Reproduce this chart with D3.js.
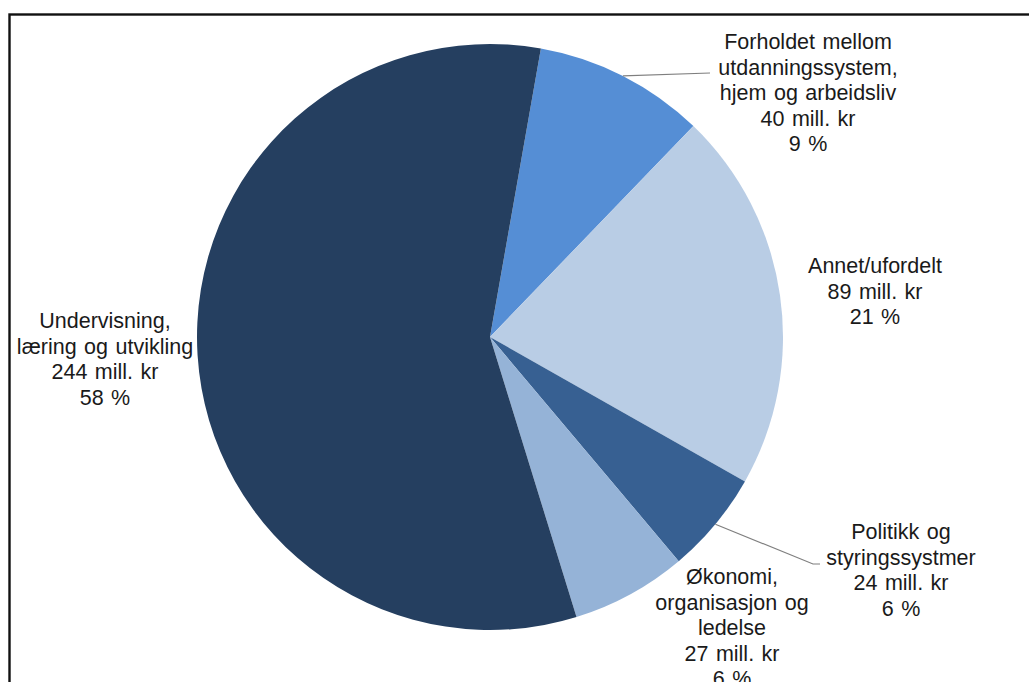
<!DOCTYPE html>
<html>
<head>
<meta charset="utf-8">
<script src="https://cdn.jsdelivr.net/npm/d3@7"></script>
<style>
	body { margin: 0; background: #fff; }
	svg text { font-family: "Liberation Sans", Arial, sans-serif; font-size: 21.5px; fill: #1a1a1a; word-spacing: 1.5px; }
</style>
</head>
<body>
<script>
// data, clockwise from the first slice
var names=[
	["Forholdet mellom", "utdanningssystem,", "hjem og arbeidsliv"],
	["Annet/ufordelt"],
	["Politikk og", "styringssystmer"],
	["Økonomi,", "organisasjon og", "ledelse"],
	["Undervisning,", "læring og utvikling"]
];
var values=[40, 89, 24, 27, 244];       // mill. kr
var percents=[9, 21, 6, 6, 58];
var colors=["#558ed5", "#b9cde5", "#376092", "#95b3d7", "#253f60"];

// layout: label centre (x, first line y) and leader line end
var labelPos=[[808, 49], [875, 273], [901, 539], [732, 584], [105, 328]];
var leaders=[[[710, 73]], null, [[813, 564], [820, 564]], null, null];

var W=1029, H=682;
var cx=490, cy=337, R=293;
var lineH=25.5;

var svg=d3.select('body').append('svg').attr('width', W).attr('height', H);

// frame
svg.append('rect')
	.attr('x', 9.5).attr('y', 14.5)
	.attr('width', W+20).attr('height', H+20)
	.attr('fill', 'none')
	.attr('stroke', '#111')
	.attr('stroke-width', 2.4);

var pie=d3.pie().sort(null)
	.startAngle(10*Math.PI/180)
	.endAngle(10*Math.PI/180+2*Math.PI);
var arcs=pie(values);
var arc=d3.arc().innerRadius(0).outerRadius(R);
var outer=d3.arc().innerRadius(R).outerRadius(R);

var g=svg.append('g').attr('transform', 'translate('+cx+','+cy+')');
g.selectAll('path.slice')
	.data(arcs)
	.enter().append('path')
	.attr('class', 'slice')
	.attr('d', arc)
	.attr('fill', function(d, i) { return colors[i]; });

// leader lines
arcs.forEach(function(d, i) {
	if (!leaders[i]) return;
	var a=(d.startAngle+d.endAngle)/2;
	var pts=[[cx+R*Math.sin(a), cy-R*Math.cos(a)]].concat(leaders[i]);
	svg.append('path')
		.attr('d', d3.line()(pts))
		.attr('fill', 'none')
		.attr('stroke', '#7f7f7f')
		.attr('stroke-width', 1.2);
});

// labels
arcs.forEach(function(d, i) {
	var lines=names[i].concat([values[i]+" mill. kr", percents[i]+" %"]);
	var t=svg.append('text')
		.attr('text-anchor', 'middle')
		.attr('x', labelPos[i][0])
		.attr('y', labelPos[i][1]);
	lines.forEach(function(l, k) {
		t.append('tspan')
			.attr('x', labelPos[i][0])
			.attr('dy', k==0 ? 0 : lineH)
			.text(l);
	});
});
</script>
</body>
</html>
